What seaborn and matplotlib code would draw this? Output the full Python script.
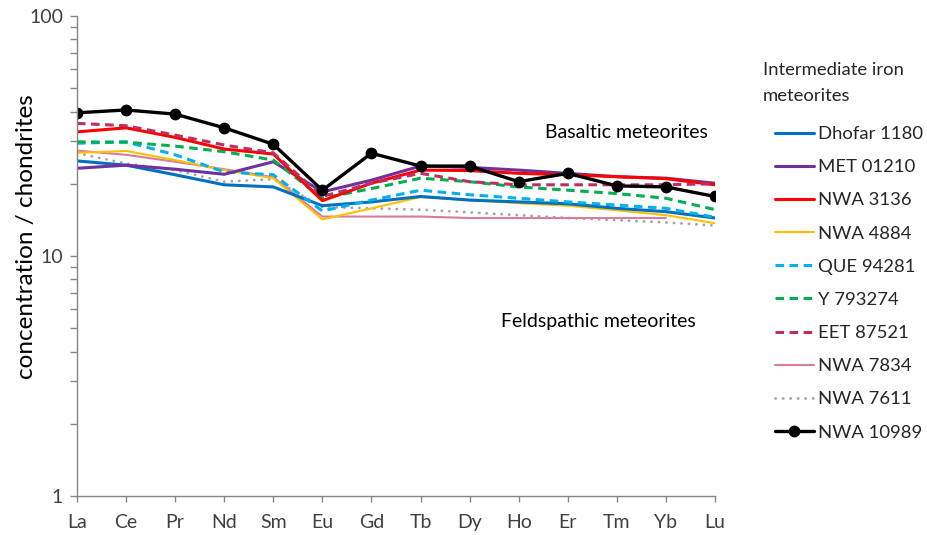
import numpy as np
import pandas as pd
import matplotlib
matplotlib.use("Agg")
import matplotlib.pyplot as plt
from matplotlib.lines import Line2D
import seaborn as sns

# Rare earth elements, chondrite-normalised
elements = ["La", "Ce", "Pr", "Nd", "Sm", "Eu", "Gd", "Tb", "Dy", "Ho", "Er", "Tm", "Yb", "Lu"]

dhofar_1180 = [24.9, 23.9, 21.8, 19.8, 19.4, 16.2, 16.8, 17.7, 17.1, 16.8, 16.5, 15.8, 15.3, 14.4]
met_01210 = [23.2, 23.9, 23.0, 21.9, 24.7, 18.5, 20.7, 23.7, 23.4, 22.8, 22.1, 21.4, 21.1, 20.1]
nwa_3136 = [32.9, 34.2, 31.2, 27.9, 26.6, 17.0, 20.1, 22.8, 22.7, 22.1, 21.8, 21.4, 21.0, 19.8]
nwa_4884 = [26.9, 27.4, 25.1, 22.8, 21.1, 14.2, 15.8, 17.6, 17.1, 16.6, 16.2, 15.5, 14.8, 13.7]
que_94281 = [29.5, 29.9, 26.4, 22.4, 21.8, 15.4, 17.1, 18.8, 18.0, 17.4, 16.8, 16.3, 15.8, 14.5]
y_793274 = [29.9, 29.8, 28.7, 27.2, 25.1, 17.4, 19.1, 21.1, 20.4, 19.4, 18.8, 18.2, 17.4, 15.6]
eet_87521 = [35.7, 34.9, 31.9, 29.0, 26.9, 17.7, 20.1, 22.1, 20.4, 19.8, 19.8, 19.8, 19.8, 20.0]
nwa_7834 = [27.5, 26.4, 24.7, 23.0, 21.3, 14.6, 14.6, 14.6, 14.4, 14.4, 14.4, 14.4, 14.4, np.nan]
nwa_7611 = [26.8, 24.3, 22.8, 20.4, 20.9, 16.0, 15.8, 15.6, 15.2, 14.8, 14.4, 14.1, 13.8, 13.4]
nwa_10989 = [39.5, 40.6, 39.0, 34.2, 29.2, 18.8, 26.8, 23.7, 23.7, 20.4, 22.1, 19.6, 19.4, 17.7]

series_names = ["Dhofar 1180", "MET 01210", "NWA 3136", "NWA 4884", "QUE 94281",
                "Y 793274", "EET 87521", "NWA 7834", "NWA 7611", "NWA 10989"]
series_values = [dhofar_1180, met_01210, nwa_3136, nwa_4884, que_94281,
                 y_793274, eet_87521, nwa_7834, nwa_7611, nwa_10989]

# line styles: color, width (pt), dash pattern
styles = {
    "Dhofar 1180": dict(color="#0070C0", lw=2.2, ls="-"),
    "MET 01210": dict(color="#7030A0", lw=2.2, ls="-"),
    "NWA 3136": dict(color="#FF0000", lw=2.2, ls="-"),
    "NWA 4884": dict(color="#FFC000", lw=1.5, ls="-"),
    "QUE 94281": dict(color="#00B0F0", lw=2.2, ls=(0, (2.8, 1.8))),
    "Y 793274": dict(color="#00B050", lw=2.2, ls=(0, (2.8, 1.8))),
    "EET 87521": dict(color="#BE2F5F", lw=2.2, ls=(0, (2.8, 1.8))),
    "NWA 7834": dict(color="#D97CA0", lw=1.5, ls="-"),
    "NWA 7611": dict(color="#A6A6A6", lw=2.0, ls=(0, (0.1, 2.6))),
    "NWA 10989": dict(color="#000000", lw=2.4, ls="-"),
}

sns.set_theme(style="white")
plt.rcParams["font.family"] = ["Lato", "DejaVu Sans"]

FS = 14
LEG_FS = 13.3

fig = plt.figure(figsize=(9.27, 5.35), dpi=100)
ax = fig.add_axes([77 / 927, 1 - 496 / 535, (715 - 77) / 927, (496 - 16) / 535])

order = [8, 7, 3, 0, 4, 1, 5, 2, 6, 9]  # drawing order, black on top
for i in order:
    name, vals = series_names[i], series_values[i]
    st = styles[name]
    df = pd.DataFrame({"element": elements, "value": vals}).dropna()
    kw = dict(color=st["color"], linewidth=st["lw"], linestyle=st["ls"])
    if name == "NWA 10989":
        kw.update(marker="o", markersize=8.5, markeredgewidth=0)
    if name == "NWA 7611":
        kw.update(dash_capstyle="round")
    sns.lineplot(data=df, x="element", y="value", ax=ax, sort=False, **kw)

ax.set_yscale("log")
ax.set_ylim(1, 100)
ax.set_xlim(0, 13)
ax.set_xticks(range(len(elements)))
ax.set_xticklabels(elements)
ax.set_xlabel("")
ax.set_ylabel("concentration / chondrites", fontsize=17.5, color="black")
ax.yaxis.set_label_coords(-0.062, 0.54)

ax.yaxis.set_major_locator(matplotlib.ticker.LogLocator(base=10, numticks=5))
ax.yaxis.set_minor_locator(matplotlib.ticker.LogLocator(base=10, subs=np.arange(2, 10), numticks=10))
ax.yaxis.set_major_formatter(matplotlib.ticker.FuncFormatter(lambda v, p: f"{v:g}"))
ax.yaxis.set_minor_formatter(matplotlib.ticker.NullFormatter())

for side in ["top", "right"]:
    ax.spines[side].set_visible(False)
for side in ["left", "bottom"]:
    ax.spines[side].set_color("#868686")
    ax.spines[side].set_linewidth(1.0)

ax.tick_params(axis="y", which="major", direction="out", length=5, width=1, color="#868686",
               labelsize=FS, labelcolor="#404040", left=True, pad=5)
ax.tick_params(axis="y", which="minor", direction="out", length=5, width=1, color="#868686", left=True)
ax.tick_params(axis="x", which="major", direction="out", length=4, width=1, color="#868686",
               labelsize=FS, labelcolor="#404040", bottom=True, pad=9)
for lbl in ax.get_xticklabels():
    lbl.set_clip_on(False)
ax.grid(False)

fig.text(626 / 927, 1 - 133 / 535, "Basaltic meteorites",
         ha="center", va="center", fontsize=FS, color="black")
fig.text(598 / 927, 1 - 322 / 535, "Feldspathic meteorites",
         ha="center", va="center", fontsize=FS, color="black")

# legend title and entries
fig.text(763 / 927, 1 - 83 / 535, "Intermediate iron\nmeteorites", ha="left", va="center",
         fontsize=LEG_FS, color="#262626", linespacing=1.7)

handles = []
for name in series_names:
    st = styles[name]
    h = Line2D([], [], color=st["color"], linewidth=st["lw"], linestyle=st["ls"])
    if name == "NWA 10989":
        h.set_marker("o")
        h.set_markersize(8.5)
        h.set_markeredgewidth(0)
    if name == "NWA 7611":
        h.set_dash_capstyle("round")
    handles.append(h)

leg = fig.legend(handles, series_names,
                 loc="upper left", bbox_to_anchor=(775 / 927, 1 - 126 / 535),
                 frameon=False, fontsize=LEG_FS, handlelength=2.1,
                 handletextpad=0.25, labelspacing=0.93, numpoints=1,
                 borderaxespad=0, borderpad=0)
for t in leg.get_texts():
    t.set_color("#262626")

fig.savefig("out.png", dpi=100)
